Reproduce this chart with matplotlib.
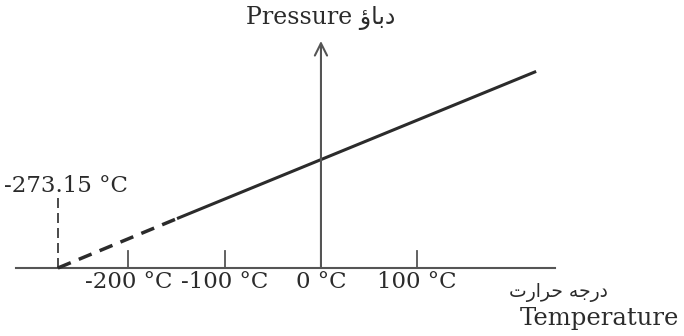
import matplotlib.pyplot as plt

# values (temperature in degC, pressure in arbitrary units)
tick_temps = [-200, -100, 0, 100]
tick_labels = ["-200 °C", "-100 °C", "0 °C", "100 °C"]
dashed_temps = [-273.15, -148]
dashed_press = [0, 50]
solid_temps = [-148, 222]
solid_press = [50, 196]
zero_temp = -273.15
zero_label = "-273.15 °C"

# urdu words, pre-shaped with presentation forms in visual order
urdu_pressure = "\uFE85\uFE8E\uFE91\uFEA9"
urdu_temperature = "\uFE95\uFEAD\uFE8D\uFEAE\uFEA3 \uFEEA\uFE9F\uFEAD\uFEA9"

SERIF = ["DejaVu Serif", "DejaVu Sans"]
INK = "#2b2b2b"

fig = plt.figure(figsize=(6.84, 3.36), dpi=100)
ax = fig.add_axes([0, 0, 1, 1])
ax.set_xlim(-333.3, 377.0)
ax.set_ylim(-68, 268)
ax.axis("off")

# axes
ax.plot([-317, 243], [0, 0], color="#555555", lw=1.5)
ax.annotate("", xy=(0, 227), xytext=(0, 0),
            arrowprops=dict(arrowstyle="->", color="#555555", lw=1.5,
                            mutation_scale=22, shrinkA=0, shrinkB=0))

# ticks and labels
for t, lab in zip(tick_temps, tick_labels):
    if t != 0:
        ax.plot([t, t], [0, 17], color="#555555", lw=1.3)
    ax.text(t, -14, lab, ha="center", va="center", fontsize=16.5,
            family=SERIF, color=INK)

# pressure line
ax.plot(dashed_temps, dashed_press, color=INK, lw=2.5, ls=(0, (4, 2.5)))
ax.plot(solid_temps, solid_press, color=INK, lw=2.2)

# absolute zero marker
ax.plot([zero_temp, zero_temp], [0, 70], color=INK, lw=1.2, ls=(0, (6, 3)))
ax.text(-265, 82, zero_label, ha="center", va="center", fontsize=16.5,
        family=SERIF, color=INK)

# axis titles
ax.text(0, 250, "Pressure " + urdu_pressure, ha="center", va="center",
        fontsize=17, family=SERIF, color=INK)
ax.text(247, -25, urdu_temperature, ha="center", va="center",
        fontsize=13.5, family=SERIF, color=INK)
ax.text(372, -50, "Temperature", ha="right", va="center", fontsize=17.5,
        family=SERIF, color=INK)

fig.savefig("out.png", dpi=100)
